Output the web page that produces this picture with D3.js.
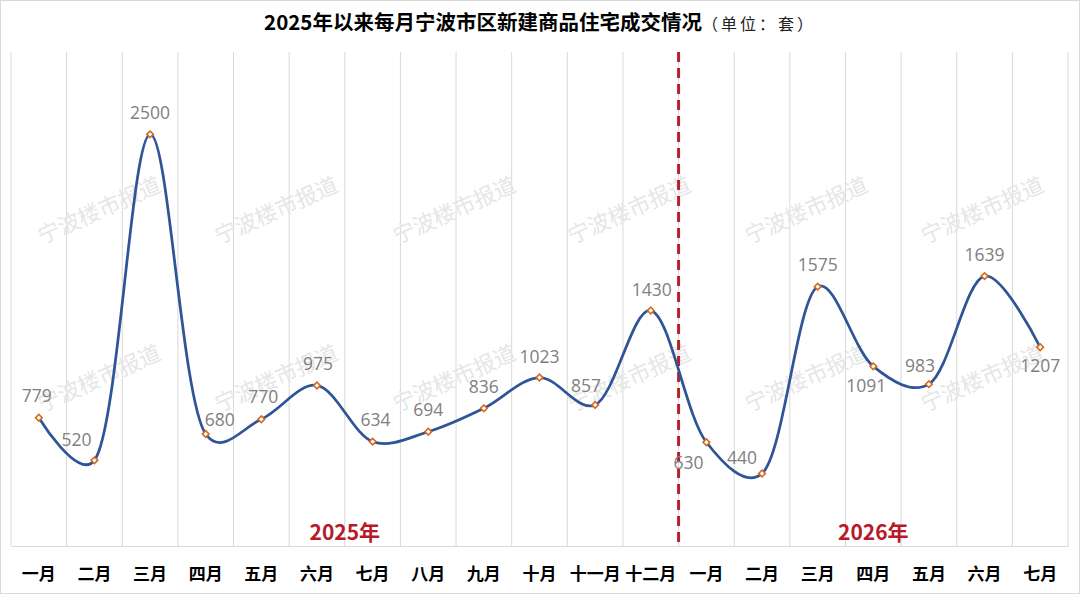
<!DOCTYPE html>
<html>
<head>
<meta charset="utf-8">
<script src="https://cdn.jsdelivr.net/npm/d3@7/dist/d3.min.js"></script>
<style>
  html, body { margin: 0; padding: 0; background: #fff; }
  svg { display: block; }
</style>
</head>
<body>
<script>
// 月份（两年连续）
const months = ['一月', '二月', '三月', '四月', '五月', '六月', '七月', '八月', '九月', '十月', '十一月', '十二月',
    '一月', '二月', '三月', '四月', '五月', '六月', '七月']
// 成交套数
const sales = [779, 520, 2500, 680, 770, 975, 634, 694, 836, 1023, 857, 1430,
    630, 440, 1575, 1091, 983, 1639, 1207]
// 年份分段：[标签, 起始下标, 结束下标]
const years = [['2025年', 0, 11], ['2026年', 12, 18]]
const yTicks = [0, 3000]

// 数据标签相对点的偏移 [dx, dy]
const labelOffsets = [[-2, -16], [-18, -14], [0, -15], [14, -8], [2, -16], [1, -15], [3, -16],
    [0, -16], [0, -15], [0, -15], [-9, -13], [1, -15], [-18, 27], [-20, -10], [0, -16],
    [-7, 26], [-9, -12], [0, -15], [0, 25]]

{
    let width = 1080
    let height = 594
    let svg = d3.select('body').append('svg')
        .attr('width', width)
        .attr('height', height)

    svg.append('rect')
        .attr('x', 0.5).attr('y', 0.5)
        .attr('width', width - 1).attr('height', height - 1)
        .attr('fill', '#fff')
        .attr('stroke', '#d9d9d9')

    let left = 11, right = 1068, top = 52, bottom = 546
    let x = d3.scaleBand()
        .domain(d3.range(months.length))
        .range([left, right])
    let y = d3.scaleLinear()
        .domain(d3.extent(yTicks))
        .range([bottom, top])
    let cx = i => x(i) + x.bandwidth() / 2

    // 竖向网格线
    svg.append('g').selectAll('line')
        .data(d3.range(months.length + 1))
        .enter()
        .append('line')
        .attr('x1', i => left + i * x.step())
        .attr('x2', i => left + i * x.step())
        .attr('y1', top)
        .attr('y2', bottom)
        .attr('stroke', '#d9d9d9')
        .attr('stroke-width', 1)

    // 水印
    let wmX = [100, 277, 455, 630, 807, 983]
    let wmY = [212, 380]
    wmY.forEach(wy => {
        svg.append('g').selectAll('text').data(wmX)
            .enter()
            .append('text')
            .attr('transform', wx => `translate(${wx},${wy}) rotate(-24)`)
            .attr('text-anchor', 'middle')
            .attr('dominant-baseline', 'middle')
            .attr('font-family', '"Noto Sans CJK SC", sans-serif')
            .attr('font-size', 22)
            .attr('fill', '#e6e6e6')
            .text('宁波楼市报道')
    })

    // x 轴
    let xAxis = d3.axisBottom(x)
        .tickFormat(i => months[i])
        .tickSize(0)
        .tickPadding(22)
    let gx = svg.append('g')
        .attr('transform', `translate(0,${bottom})`)
        .call(xAxis)
    gx.select('.domain').attr('stroke', '#d9d9d9')
    gx.selectAll('text')
        .attr('font-family', '"Noto Sans CJK SC", sans-serif')
        .attr('font-size', 17)
        .attr('font-weight', 'bold')
        .attr('fill', '#000')

    // 年份分隔虚线
    let split = left + years[1][1] * x.step()
    svg.append('line')
        .attr('x1', split).attr('x2', split)
        .attr('y1', top).attr('y2', bottom)
        .attr('stroke', '#b5232a')
        .attr('stroke-width', 3)
        .attr('stroke-dasharray', '10 6')

    // 年份标签
    svg.append('g').selectAll('text').data(years)
        .enter()
        .append('text')
        .attr('x', d => (x(d[1]) + x(d[2]) + x.bandwidth()) / 2)
        .attr('y', 540)
        .attr('text-anchor', 'middle')
        .attr('font-family', '"Noto Sans CJK SC", sans-serif')
        .attr('font-size', 21)
        .attr('font-weight', 'bold')
        .attr('fill', '#b8192b')
        .text(d => d[0])

    // 折线（平滑）
    let line = d3.line()
        .x((d, i) => cx(i))
        .y(d => y(d))
        .curve(d3.curveCatmullRom.alpha(0.25))
    svg.append('path')
        .datum(sales)
        .attr('d', line)
        .attr('fill', 'none')
        .attr('stroke', '#2f5597')
        .attr('stroke-width', 2.75)

    // 数据点（菱形）
    let diamond = d3.symbol().type(d3.symbolSquare).size(22)
    svg.append('g').selectAll('path').data(sales)
        .enter()
        .append('path')
        .attr('d', diamond)
        .attr('transform', (d, i) => `translate(${cx(i)},${y(d)}) rotate(45)`)
        .attr('fill', '#fff')
        .attr('stroke', '#d2691e')
        .attr('stroke-width', 1.6)

    // 数据标签
    svg.append('g').selectAll('text').data(sales)
        .enter()
        .append('text')
        .attr('x', (d, i) => cx(i) + labelOffsets[i][0])
        .attr('y', (d, i) => y(d) + labelOffsets[i][1])
        .attr('text-anchor', 'middle')
        .attr('font-family', '"Open Sans", sans-serif')
        .attr('font-size', 17.5)
        .attr('fill', '#808080')
        .text(d => d)

    // 标题
    let title = svg.append('text')
        .attr('x', width / 2)
        .attr('y', 30)
        .attr('text-anchor', 'middle')
        .attr('font-family', '"Noto Sans CJK SC", sans-serif')
    title.append('tspan')
        .attr('font-size', 20.5)
        .attr('font-weight', 'bold')
        .attr('fill', '#000')
        .text('2025年以来每月宁波市区新建商品住宅成交情况')
    title.append('tspan')
        .attr('font-size', 16)
        .attr('fill', '#222')
        .attr('letter-spacing', 3)
        .text('（单位：套）')
}
</script>
</body>
</html>
